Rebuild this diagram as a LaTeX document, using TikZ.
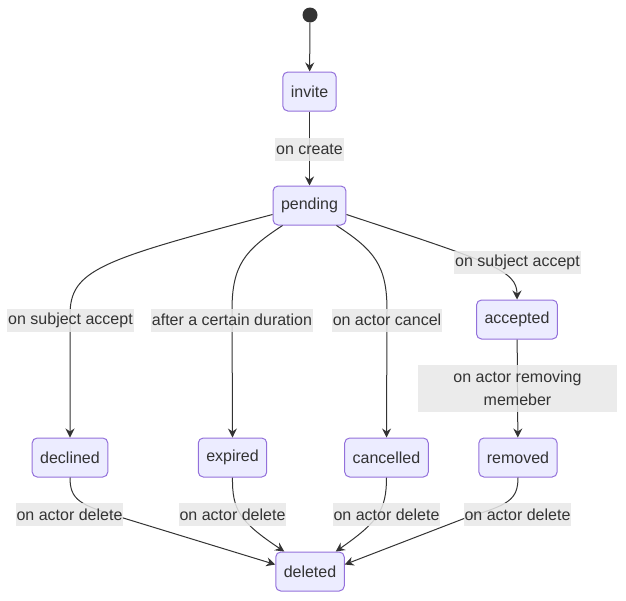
\documentclass[tikz,border=0pt]{standalone}
\usepackage{fontspec}
\setmainfont{Liberation Sans}
\usetikzlibrary{arrows.meta}
\definecolor{nodefill}{HTML}{ECECFF}
\definecolor{nodeline}{HTML}{9370DB}
\definecolor{edgec}{HTML}{333333}
\definecolor{lblfill}{HTML}{E8E8E8}
\begin{document}
\begin{tikzpicture}[x=1pt,y=-1pt,
  state/.style={draw=nodeline, fill=nodefill, rounded corners=5pt, line width=1pt,
    minimum height=39pt, inner xsep=8pt, text=edgec, font=\fontsize{16}{19}\selectfont},
  lbl/.style={fill=lblfill, fill opacity=0.85, text opacity=1, text=edgec, inner xsep=1pt,
    inner ysep=0pt, minimum height=23pt, font=\fontsize{16}{19}\selectfont},
  tr/.style={draw=edgec, line width=1pt, -{Stealth[length=9pt,width=9pt,inset=3pt]}}]
\useasboundingbox (0,0) rectangle (626,600);
% states
\node[circle, fill=edgec, inner sep=0pt, minimum size=15pt] (start) at (310,15) {};
\node[state] (invite) at (309.5,91.5) {invite};
\node[state] (pending) at (309.5,205.5) {pending};
\node[state] (accepted) at (517,319.5) {accepted};
\node[state] (declined) at (70,457.5) {declined};
\node[state] (expired) at (232.5,457.5) {expired};
\node[state] (cancelled) at (386.5,457.5) {cancelled};
\node[state] (removed) at (518,457.5) {removed};
\node[state] (deleted) at (310,571.5) {deleted};
% transitions
\draw[tr] (start) -- (invite);
\draw[tr] (invite) -- (pending);
\draw[tr] ([yshift=-9pt]pending.west) .. controls (100,260) and (70,270) .. (70,315) -- (declined.north);
\draw[tr] ([xshift=10pt]pending.south west) .. controls (245,250) and (232,265) .. (232,310) -- (expired.north);
\draw[tr] ([xshift=-10pt]pending.south east) .. controls (374,250) and (387,265) .. (387,310) -- (cancelled.north);
\draw[tr] ([yshift=-9pt]pending.east) .. controls (490,262) and (517,270) .. (accepted.north);
\draw[tr] (accepted) -- (removed);
\draw[tr] (declined.south) .. controls (70,500) and (80,505) .. (120,517) -- ([yshift=7pt]deleted.west);
\draw[tr] (expired.south) .. controls (232,510) and (240,522) .. ([xshift=9pt]deleted.north west);
\draw[tr] (cancelled.south) .. controls (386.5,510) and (378,522) .. ([xshift=-9pt]deleted.north east);
\draw[tr] (removed.south) .. controls (518,500) and (508,505) .. (468,517) -- ([yshift=7pt]deleted.east);
% labels
\node[lbl] (l1) at (309.5,149) {on create};
\node[lbl] (l2) at (517.5,262.5) {on subject accept};
\node[lbl] (l3) at (70.5,320) {on subject accept};
\node[lbl] (l4) at (232,320) {after a certain duration};
\node[lbl] (l5) at (387,320) {on actor cancel};
\node[lbl, minimum width=199pt, minimum height=47pt, align=center, font=\fontsize{16}{23}\selectfont] (l6) at (517.5,388.5) {on actor removing\\memeber};
\node[lbl] (l7) at (69.5,514.5) {on actor delete};
\node[lbl] (l8) at (232.5,514.5) {on actor delete};
\node[lbl] (l9) at (386.5,514.5) {on actor delete};
\node[lbl] (l10) at (517.5,514.5) {on actor delete};
\end{tikzpicture}
\end{document}
